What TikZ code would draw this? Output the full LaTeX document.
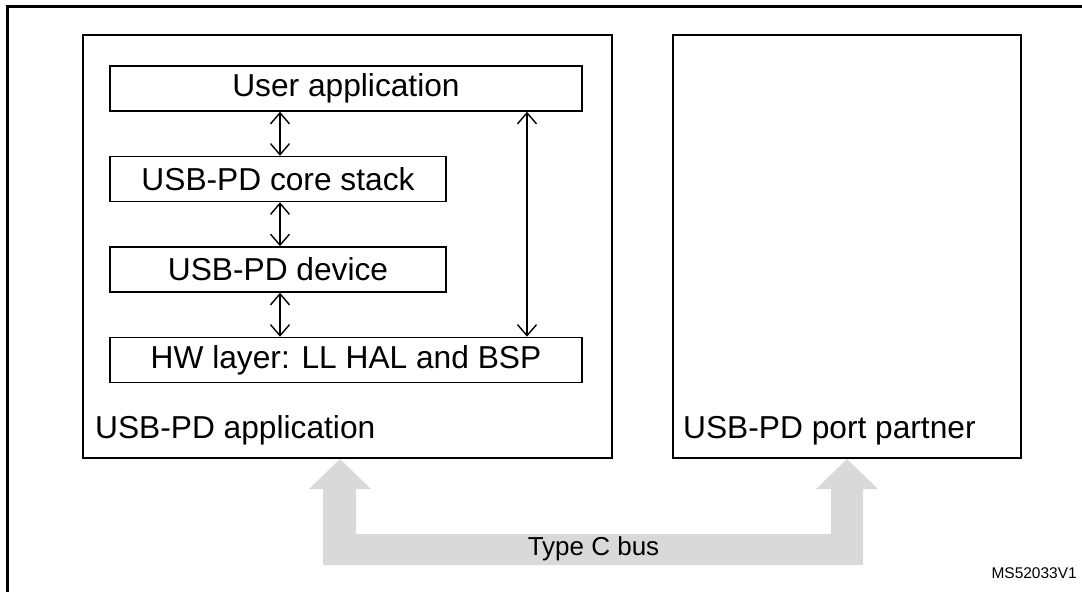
\documentclass[tikz,border=0pt]{standalone}
\usepackage{fontspec}
\setmainfont{Liberation Sans}
\usepackage{tikz}
\usetikzlibrary{positioning,arrows.meta}

\definecolor{busgray}{HTML}{D9D9D9}
\tikzset{
	layer/.style={draw,line width=1.6pt,inner sep=0pt,minimum height=45pt,font=\fontsize{31.7}{36}\selectfont},
	block/.style={draw,line width=1.6pt,inner sep=0pt,minimum width=#1,minimum height=423pt},
	biarrow/.style={line width=1.4pt,{Straight Barb[length=11pt,width=19pt]}-{Straight Barb[length=11pt,width=19pt]}},
	blocklabel/.style={anchor=base west,inner sep=0pt,font=\fontsize{31.7}{36}\selectfont}
}

\begin{document}
\begin{tikzpicture}[x=1pt,y=-1pt]
\useasboundingbox (0,0) rectangle (1082,592);
\draw[line width=3pt] (1082,6) -| (7,592);

	\node[block=529pt] (app) at (347.5,246.5) {};
	\node[block=348pt] (partner) at (847,246.5) {};
	\node[blocklabel] (applabel) at (95,438) {USB-PD application};
	\node[blocklabel] (partnerlabel) at (683,438) {USB-PD port partner};

	\node[layer,minimum width=472pt] (user) at (346,88.5) {User application};
	\node[layer,minimum width=336pt] (core) at (278,179) {USB-PD core stack};
	\node[layer,minimum width=336pt] (device) at (278,269.5) {USB-PD device};
	\node[layer,minimum width=472pt] (hw) at (346,360) {HW layer: LL HAL and BSP};

	\coordinate (left) at (280,0);
	\coordinate (right) at (527,0);
	\draw[biarrow] (left |- user.south) -- (left |- core.north);
	\draw[biarrow] (left |- core.south) -- (left |- device.north);
	\draw[biarrow] (left |- device.south) -- (left |- hw.north);
	\draw[biarrow] (right |- user.south) -- (right |- hw.north);

% type C bus
\fill[busgray] (340,459) -- (371,489) -- (356,489) -- (356,534) -- (831,534) -- (831,489)
	-- (816,489) -- (847,459) -- (878,489) -- (863,489) -- (863,565) -- (323,565)
	-- (323,489) -- (309,489) -- cycle;
\node[font=\fontsize{26}{30}\selectfont,inner sep=0pt] (bus) at (593.5,549) {Type C bus};

\node[font=\fontsize{15.5}{18}\selectfont,anchor=base east,inner sep=0pt] (ref) at (1077,578) {MS52033V1};
\end{tikzpicture}
\end{document}
